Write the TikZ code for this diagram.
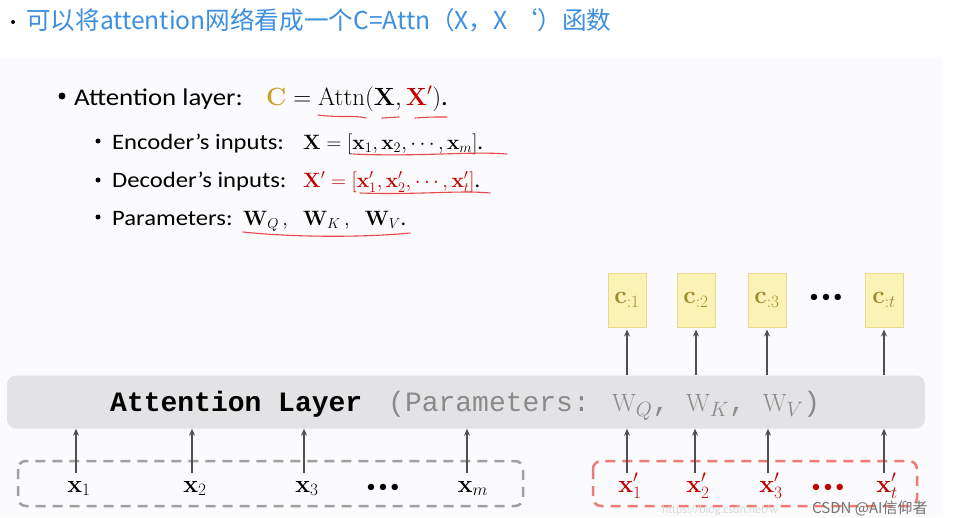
\documentclass[tikz,border=0pt]{standalone}
\usepackage[no-math]{fontspec}
\setmainfont{Carlito}
\newfontfamily\slidefont[FakeStretch=1.12]{Carlito}
\newfontfamily\monofont{Liberation Mono}
\newfontfamily\cjkfont{Noto Sans CJK SC}
\usetikzlibrary{arrows.meta}
\definecolor{slidebg}{HTML}{FBFAFC}
\definecolor{layerbg}{HTML}{E3E2E4}
\definecolor{topblue}{HTML}{3D8FE0}
\definecolor{goldc}{HTML}{C9A227}
\definecolor{redc}{HTML}{C00000}
\definecolor{ulred}{HTML}{E8474F}
\definecolor{cboxf}{HTML}{FBF2B6}
\definecolor{cboxd}{HTML}{EAD98C}
\definecolor{cboxt}{HTML}{A08A2C}
\definecolor{dashgray}{HTML}{A0A0A0}
\definecolor{dashred}{HTML}{EE7B78}
\definecolor{arrowc}{HTML}{505050}
\definecolor{paramgray}{HTML}{8A8A8A}
\newcommand{\bigdots}{•\hspace{3pt}•\hspace{3pt}•}
\begin{document}
\begin{tikzpicture}[x=1pt,y=-1pt,
  arr/.style={draw=arrowc, line width=1.8pt, -{Stealth[length=7pt,width=6pt]}},
  cbox/.style={draw=cboxd, fill=cboxf, line width=1pt, minimum width=38pt, minimum height=54pt, inner sep=0pt, font=\fontsize{24}{24}\selectfont, text=cboxt},
  xlab/.style={inner sep=0pt, anchor=base, font=\fontsize{24}{26}\selectfont},
  dotlab/.style={inner sep=0pt, anchor=base, font=\fontsize{18}{20}\selectfont},
  uline/.style={draw=ulred, line width=1.1pt, line cap=round},
  txt/.style={anchor=base west, inner sep=0pt},
  dbox/.style={dashed, dash pattern=on 10pt off 7pt, line width=2.5pt, rounded corners=8pt},
  ]
\useasboundingbox (0,0) rectangle (957,517);
\fill[white] (0,0) rectangle (957,517);
\fill[slidebg] (0,57) rectangle (943,517);
% top line
\fill (13,22) circle (2pt);
\node[txt, text=topblue, font=\cjkfont\fontsize{24.6}{28}\selectfont] (title) at (26,29) {可以将attention网络看成一个C=Attn（X，X ‘）函数};
% bullet 1
\fill (62,96) circle (3.5pt);
\node[txt, font=\slidefont\fontsize{24}{28}\selectfont] (b1) at (74,105) {Attention layer:};
\node[txt, font=\fontsize{26.5}{30}\selectfont] (m1) at (266,105) {$\textcolor{goldc}{\mathbf{C}} = \mathrm{Attn}(\mathbf{X}, \textcolor{redc}{\mathbf{X}'})$.};
\draw[uline] (318,115) .. controls (340,118) and (355,115) .. (366,118);
\draw[uline] (382,118) -- (399,117);
\draw[uline] (415,118) .. controls (430,117) .. (447,117);
% sub-bullets
\fill (98,141) circle (2.5pt);
\node[txt, font=\slidefont\fontsize{22}{26}\selectfont] (b2) at (112,149) {Encoder’s inputs:};
\node[txt, font=\fontsize{22.6}{27}\selectfont] (m2) at (303,149) {$\mathbf{X} = [\mathbf{x}_1, \mathbf{x}_2, \cdots, \mathbf{x}_m]$.};
\draw[uline] (353,154) .. controls (420,157) and (470,151) .. (507,154);
\fill (98,180) circle (2.5pt);
\node[txt, font=\slidefont\fontsize{22}{26}\selectfont] (b3) at (112,187) {Decoder’s inputs:};
\node[txt, font=\fontsize{22.2}{26}\selectfont] (m3) at (303,187) {$\textcolor{redc}{\mathbf{X}' = [\mathbf{x}'_1, \mathbf{x}'_2, \cdots, \mathbf{x}'_t]}$.};
\draw[uline] (360,193) .. controls (420,195) and (460,190) .. (490,193);
\fill (98,217) circle (2.5pt);
\node[txt, font=\slidefont\fontsize{22}{26}\selectfont] (b4) at (112,225) {Parameters:};
\node[txt, font=\fontsize{22}{26}\selectfont] (m4) at (243,225) {$\mathbf{W}_{Q}\,,\;\; \mathbf{W}_{K}\,,\;\; \mathbf{W}_{V}$.};
\draw[uline] (243,232) .. controls (300,238) and (370,237) .. (410,233);
% attention layer
\node[fill=layerbg, rounded corners=9pt, minimum width=918pt, minimum height=53pt, inner sep=0pt] (layer) at (466,402) {};
\node[txt, font=\monofont\bfseries\fontsize{28}{30}\selectfont] (ltext) at (110,411) {Attention Layer};
\node[txt, text=paramgray, font=\monofont\fontsize{28}{30}\selectfont] (ptext) at (388,411) {(Parameters: $\mathrm{W}_Q$, $\mathrm{W}_K$, $\mathrm{W}_V$)};
% input boxes
\draw[dbox, draw=dashgray] (18,461) rectangle (523,506);
\draw[dbox, draw=dashred] (593,461) rectangle (917,506);
% encoder inputs
\node[xlab] (x1) at (79,492) {$\mathbf{x}_1$};
\node[xlab] (x2) at (195,492) {$\mathbf{x}_2$};
\node[xlab] (x3) at (307,492) {$\mathbf{x}_3$};
\node[dotlab] (xd) at (383,492) {\bigdots};
\node[xlab] (xm) at (473,492) {$\mathbf{x}_m$};
\coordinate (t1) at (76,473);
\coordinate (t2) at (192,473);
\coordinate (t3) at (304,473);
\coordinate (tm) at (467,473);
\foreach \t in {t1,t2,t3,tm} \draw[arr] (\t) -- (\t |- layer.south);
% decoder inputs
\node[xlab, text=redc] (y1) at (630,492) {$\mathbf{x}'_1$};
\node[xlab, text=redc] (y2) at (698,492) {$\mathbf{x}'_2$};
\node[xlab, text=redc] (y3) at (771,492) {$\mathbf{x}'_3$};
\node[dotlab, text=redc] (yd) at (828,492) {\bigdots};
\node[xlab, text=redc] (yt) at (887,492) {$\mathbf{x}'_t$};
\coordinate (s1) at (627,473);
\coordinate (s2) at (695,473);
\coordinate (s3) at (768,473);
\coordinate (st) at (884,473);
\foreach \t in {s1,s2,s3,st} \draw[arr] (\t) -- (\t |- layer.south);
% outputs
\node[cbox] (c1) at (627,300) {$\mathbf{c}_{:1}$};
\node[cbox] (c2) at (696,300) {$\mathbf{c}_{:2}$};
\node[cbox] (c3) at (767,300) {$\mathbf{c}_{:3}$};
\node[cbox] (ct) at (884,300) {$\mathbf{c}_{:t}$};
\node[dotlab, anchor=center] (cd) at (826,298) {\bigdots};
\foreach \c in {c1,c2,c3,ct} \draw[arr, shorten >=2pt] (layer.north -| \c) -- (\c.south);
% watermark
\node[txt, text=black!15, font=\fontsize{12}{14}\selectfont] (wm1) at (662,513) {https://blog.csdn.net/w};
\node[txt, text=black!55, font=\cjkfont\fontsize{15}{17}\selectfont] (wm2) at (812,513) {CSDN @AI信仰者};
\end{tikzpicture}
\end{document}
